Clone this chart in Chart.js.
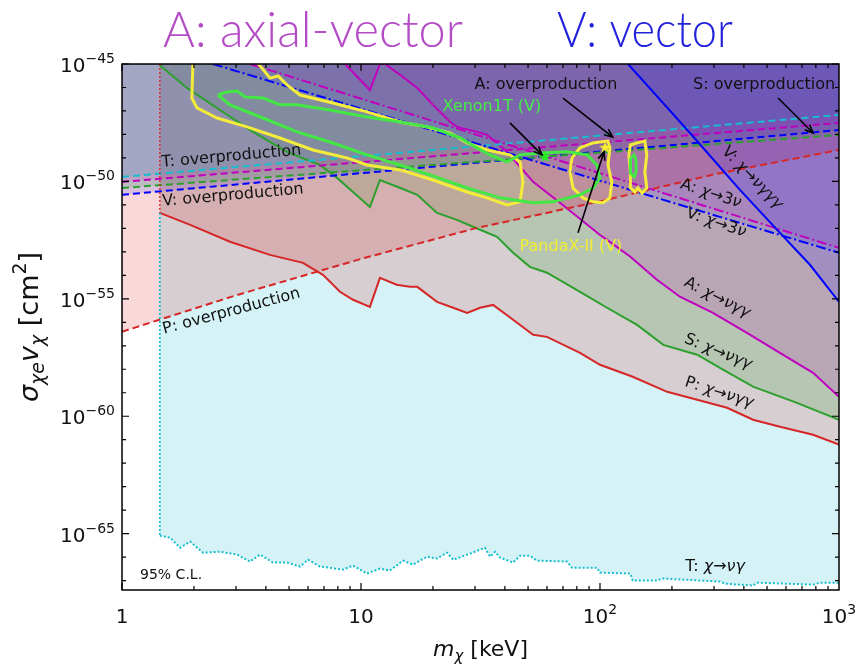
<!DOCTYPE html>
<html>
<head>
<meta charset="utf-8">
<script src="https://cdn.jsdelivr.net/npm/chart.js@4.4.1/dist/chart.umd.min.js"></script>
<style>
  html, body { margin: 0; padding: 0; background: #fff; }
  #wrap { width: 862px; height: 664px; }
</style>
</head>
<body>
<div id="wrap"><canvas id="chart" width="862" height="664"></canvas></div>
<script>
// m_chi in keV, cross sections given as log10(sigma*v / cm^2)
const tDecay = [[1.44,-65.09],[1.59,-65.17],[1.75,-65.60],[1.93,-65.34],[2.18,-65.81],[2.57,-65.77],[3.03,-65.89],[3.43,-66.19],[3.78,-65.89],[4.28,-66.23],[4.90,-66.23],[5.56,-66.40],[6.00,-66.11],[6.73,-66.40],[8.41,-66.53],[9.26,-66.36],[10.6,-66.70],[12.0,-66.49],[13.2,-66.57],[15.0,-66.15],[16.5,-66.32],[18.9,-65.98],[20.8,-66.06],[22.9,-65.81],[24.3,-66.11],[28.6,-65.85],[33.0,-65.60],[34.7,-65.98],[36.4,-65.77],[38.2,-66.02],[43.3,-66.23],[46.3,-65.94],[50.9,-65.94],[54.5,-66.15],[72.8,-66.19],[76.3,-66.45],[97.1,-66.45],[100,-66.66],[134,-66.70],[137,-67.00],[173,-67.00],[182,-66.91],[318,-67.04],[333,-67.13],[437,-67.21],[454,-67.09],[779,-67.17],[833,-67.09],[1000,-67.09]];
const pDecay = [[1.44,-51.34],[1.93,-51.85],[2.83,-52.57],[4.16,-53.13],[5.72,-53.47],[6.93,-53.98],[8.17,-54.70],[9.26,-55.04],[10.9,-55.34],[12.0,-54.11],[14.1,-54.40],[16.0,-54.49],[17.2,-54.49],[20.8,-55.13],[24.3,-55.38],[27.8,-55.60],[31.5,-55.38],[35.7,-55.26],[43.3,-55.89],[52.5,-56.53],[60.0,-56.62],[82.5,-57.30],[100,-57.81],[137,-58.32],[191,-58.96],[255,-59.30],[340,-59.64],[437,-60.15],[566,-60.45],[779,-60.79],[1000,-61.21]];
const sDecay = [[1.44,-45.05],[1.87,-46.02],[2.57,-46.96],[3.53,-47.89],[4.90,-48.74],[6.73,-49.30],[7.94,-49.85],[9.26,-50.45],[10.9,-51.09],[12.0,-49.94],[14.6,-50.28],[17.2,-50.57],[20.8,-51.34],[25.2,-51.64],[31.5,-52.06],[37.1,-52.36],[43.3,-53.04],[50.9,-53.64],[60.0,-53.89],[82.5,-54.70],[107,-55.38],[143,-56.11],[184,-56.96],[255,-57.38],[327,-58.02],[437,-58.74],[667,-59.43],[1000,-60.15]];
const aDecay = [[8.57,-45],[10.9,-46.11],[12.0,-45],[12.6,-45],[14.6,-45.47],[17.2,-46.02],[20.0,-46.74],[23.6,-47.47],[25.2,-47.68],[30.6,-47.89],[33.7,-48.02],[40.8,-48.74],[52.5,-50.02],[68.0,-50.91],[100,-52.28],[107,-52.49],[134,-53.21],[173,-54.19],[216,-54.91],[297,-55.60],[412,-56.45],[566,-57.30],[779,-58.15],[1000,-59.17]];
const vDecay3g = [[131,-45],[238,-47.94],[385,-50.36],[566,-52.19],[756,-53.55],[1000,-55.13]];
const a3nu = [[3.43,-45],[1000,-52.83]];
const v3nu = [[2.40,-45],[1000,-53.04]];

// overproduction bounds
const tOver = [[1,-49.81],[1000,-47.17]];
const aOver = [[1,-50.02],[1000,-47.51]];
const sOver = [[1,-50.28],[1000,-48.02]];
const vOver = [[1,-50.57],[1000,-47.81]];
const pOver = [[1,-56.40],[3,-54.85],[10,-53.30],[30,-52.00],[100,-50.85],[300,-49.70],[1000,-48.66]];

// mass threshold edge
const edgeRed = [[1.44,-45],[1.44,-51.34]];
const edgeCyan = [[1.44,-51.34],[1.44,-65.09]];

// Xenon1T and PandaX-II contours (vector)
const xenonA = [[2.52,-46.32],[2.75,-46.19],[3.03,-46.15],[3.27,-46.40],[3.89,-46.45],[4.58,-46.74],[5.40,-46.74],[7.41,-46.96],[10.6,-47.26],[14.6,-47.47],[20.0,-47.72],[26.0,-48.15],[30.6,-48.57],[34.7,-48.87],[40.8,-49.17],[46.3,-48.87],[56.1,-48.79],[72.8,-48.74],[88.3,-48.87],[97.1,-49.30],[100,-49.85],[93.5,-50.28],[82.5,-50.57],[63.6,-50.87],[52.5,-50.91],[38.2,-50.70],[27.8,-50.28],[20.0,-49.77],[14.6,-49.30],[10.6,-48.87],[7.41,-48.32],[5.40,-47.89],[3.89,-47.30],[2.83,-46.74],[2.52,-46.32]];
const xenonB = [[134.8,-49.00],[139,-48.87],[141.5,-49.09],[141.5,-49.60],[139,-49.81],[134.8,-49.64],[133.6,-49.30],[134.8,-49.00]];
const pandaA = [[1.98,-45],[1.96,-46.45],[2.06,-46.87],[2.50,-47.30],[3.33,-47.68],[4.58,-48.15],[6.30,-48.66],[8.74,-49.00],[10.6,-49.30],[14.6,-49.51],[20.0,-49.94],[27.8,-50.45],[33.7,-50.70],[40.8,-51.00],[46.3,-50.87],[47.6,-50.02],[46.3,-49.17],[42.0,-48.87],[33.7,-48.66],[27.8,-48.36],[23.6,-47.94],[18.9,-47.68],[14.6,-47.47],[10.6,-47.04],[7.63,-46.66],[5.56,-46.32],[4.90,-45.89],[4.50,-45.51],[4.16,-45.60],[3.85,-45.17],[3.71,-45]];
const pandaB = [[76.3,-49.00],[82.5,-48.57],[93.5,-48.36],[100,-48.32],[108,-48.28],[110,-48.57],[108,-49.30],[112,-50.02],[110,-50.70],[103,-50.91],[93.5,-50.87],[84.9,-50.70],[77.1,-50.28],[74.9,-49.60],[76.3,-49.00]];
const pandaC = [[132,-48.87],[134,-48.45],[143,-48.36],[154,-48.28],[157,-48.87],[154,-49.60],[157,-50.28],[150,-50.49],[144,-50.28],[140,-50.45],[134,-50.28],[134,-49.60],[132,-48.87]];
const xenonStar = [[58.9,-48.96]];
const pandaStar = [[105,-48.57]];

const xTickVals = [1, 10, 100, 1000];
const xTickText = [['1'], ['10'], ['10', '2'], ['10', '3']];
const yTickExp = [-45, -50, -55, -60, -65];

const COL = { cyan: '#17becf', red: '#d62728', green: '#2ca02c', mag: '#bf00bf', blue: '#0000ff', yellow: '#f4ec3a', lime: '#44e844' };

function alpha(hex, a) {
    const n = parseInt(hex.slice(1), 16);
    return `rgba(${n >> 16},${(n >> 8) & 255},${n & 255},${a})`;
}
const toPts = arr => arr.map(p => ({ x: p[0], y: Math.pow(10, p[1]) }));

function curve(pts, color, opts = {}) {
    return {
        data: toPts(pts),
        borderColor: color,
        borderWidth: opts.width || 2,
        borderDash: opts.dash || [],
        fill: opts.fill ? 'end' : false,
        backgroundColor: opts.fill ? alpha(color, opts.fill) : 'transparent',
        pointRadius: 0
    };
}

function starImage(color, r) {
    const c = document.createElement('canvas');
    const s = r * 2 + 2;
    c.width = s; c.height = s;
    const g = c.getContext('2d');
    g.beginPath();
    for (let i = 0; i < 10; i++) {
        const rr = i % 2 ? r * 0.45 : r;
        const a = -Math.PI / 2 + i * Math.PI / 5;
        g.lineTo(s / 2 + rr * Math.cos(a), s / 2 + rr * Math.sin(a));
    }
    g.closePath();
    g.fillStyle = color;
    g.fill();
    return c;
}

const DASH = [7, 4], DOT = [2, 2], DASHDOT = [10, 3, 2, 3];

const datasets = [
    { data: toPts(xenonStar), showLine: false, pointStyle: starImage('#22ee22', 6), pointRadius: 6 },
    { data: toPts(pandaStar), showLine: false, pointStyle: starImage('#f8f030', 6), pointRadius: 6 },
    curve(xenonA, COL.lime, { width: 3 }),
    curve(xenonB, COL.lime, { width: 3 }),
    curve(pandaA, COL.yellow, { width: 3 }),
    curve(pandaB, COL.yellow, { width: 3 }),
    curve(pandaC, COL.yellow, { width: 3 }),
    curve(edgeRed, COL.red, { dash: DOT, width: 1.4 }),
    curve(edgeCyan, COL.cyan, { dash: DOT, width: 1.8 }),
    curve(vDecay3g, COL.blue, { fill: 0.13 }),
    curve(a3nu, COL.mag, { dash: DASHDOT, fill: 0.1 }),
    curve(v3nu, COL.blue, { dash: DASHDOT, fill: 0.1 }),
    curve(tOver, COL.cyan, { dash: DASH, fill: 0.16 }),
    curve(aOver, COL.mag, { dash: DASH, fill: 0.13 }),
    curve(sOver, COL.green, { dash: DASH, fill: 0.16 }),
    curve(vOver, COL.blue, { dash: DASH, fill: 0.12 }),
    curve(pOver, COL.red, { dash: DASH, fill: 0.18 }),
    curve(aDecay, COL.mag, { fill: 0.16 }),
    curve(sDecay, COL.green, { fill: 0.18 }),
    curve(pDecay, COL.red, { fill: 0.18 }),
    curve(tDecay, COL.cyan, { dash: DOT, fill: 0.18 })
];

// text annotations, placed in data coordinates
const plainNotes = [
    { x: 59.4, y: -45.89, text: 'A: overproduction', color: '#111' },
    { x: 486, y: -45.89, text: 'S: overproduction', color: '#111' },
    { x: 35.3, y: -46.83, text: 'Xenon1T (V)', color: '#44ee44' },
    { x: 75.6, y: -52.79, text: 'PandaX-II (V)', color: '#f2ee30' }
];
const arrows = [
    { from: [70, -46.45], to: [113, -48.11] },
    { from: [556, -46.45], to: [779, -47.94] },
    { from: [42, -47.51], to: [57.2, -48.87] },
    { from: [80.9, -52.19], to: [104, -48.74] }
];
const sideLabels = [
    { x: 433, y: -49.85, rot: 46, parts: ['V: ', '*χ', '→', '*νγγγ'] },
    { x: 291, y: -50.53, rot: 18, parts: ['A: ', '*χ', '→3', '*ν'] },
    { x: 306, y: -51.77, rot: 19, parts: ['V: ', '*χ', '→3', '*ν'] },
    { x: 309, y: -54.96, rot: 27, parts: ['A: ', '*χ', '→', '*νγγ'] },
    { x: 312, y: -57.26, rot: 22, parts: ['S: ', '*χ', '→', '*νγγ'] },
    { x: 315, y: -59.0, rot: 18, parts: ['P: ', '*χ', '→', '*νγγ'] },
    { x: 303, y: -66.40, rot: 0, parts: ['T: ', '*χ', '→', '*νγ'] }
];
const leftLabels = [
    { x: 1.47, y: -49.38, rot: -5, text: 'T: overproduction' },
    { x: 1.48, y: -51.04, rot: -5, text: 'V: overproduction' },
    { x: 1.50, y: -56.49, rot: -15, text: 'P: overproduction' }
];

const F = (size, it) => (it ? 'italic ' : '') + size + 'px "DejaVu Sans"';

function drawRich(ctx, segs, x, y, align) {
    let w = 0;
    segs.forEach(s => { ctx.font = s.f; w += ctx.measureText(s.t).width; });
    let cx = align === 'center' ? x - w / 2 : align === 'right' ? x - w : x;
    ctx.textAlign = 'left';
    segs.forEach(s => {
        ctx.font = s.f;
        ctx.fillText(s.t, cx, y + (s.dy || 0));
        cx += ctx.measureText(s.t).width;
    });
}

function fitText(ctx, text, left, right, baseline, font, color) {
    ctx.font = font;
    const w = ctx.measureText(text).width;
    ctx.save();
    ctx.translate(left, baseline);
    ctx.scale((right - left) / w, 1);
    ctx.fillStyle = color;
    ctx.textAlign = 'left';
    ctx.textBaseline = 'alphabetic';
    ctx.fillText(text, 0, 0);
    ctx.restore();
}

const decor = {
    id: 'decor',
    afterDatasetsDraw(chart) {
        const { ctx, chartArea: a, scales: { x, y } } = chart;
        const px = v => x.getPixelForValue(v);
        const py = e => y.getPixelForValue(Math.pow(10, e));
        ctx.save();

        // annotations
        ctx.textBaseline = 'middle';
        plainNotes.forEach(n => {
            ctx.font = F(16);
            ctx.fillStyle = n.color;
            ctx.textAlign = 'center';
            ctx.fillText(n.text, px(n.x), py(n.y));
        });
        ctx.strokeStyle = '#000';
        ctx.lineWidth = 1.6;
        arrows.forEach(ar => {
            const x0 = px(ar.from[0]), y0 = py(ar.from[1]);
            const x1 = px(ar.to[0]), y1 = py(ar.to[1]);
            const ang = Math.atan2(y1 - y0, x1 - x0);
            ctx.beginPath();
            ctx.moveTo(x0, y0);
            ctx.lineTo(x1, y1);
            ctx.moveTo(x1 - 9 * Math.cos(ang - 0.4), y1 - 9 * Math.sin(ang - 0.4));
            ctx.lineTo(x1, y1);
            ctx.lineTo(x1 - 9 * Math.cos(ang + 0.4), y1 - 9 * Math.sin(ang + 0.4));
            ctx.stroke();
        });
        ctx.fillStyle = '#111';
        sideLabels.forEach(l => {
            ctx.save();
            ctx.translate(px(l.x), py(l.y));
            ctx.rotate(l.rot * Math.PI / 180);
            const segs = l.parts.map(p => p[0] === '*' ? { t: p.slice(1), f: F(16, true) } : { t: p, f: F(16) });
            drawRich(ctx, segs, 0, 0, 'center');
            ctx.restore();
        });
        leftLabels.forEach(l => {
            ctx.save();
            ctx.translate(px(l.x), py(l.y));
            ctx.rotate(l.rot * Math.PI / 180);
            ctx.font = F(16);
            ctx.textAlign = 'left';
            ctx.textBaseline = 'alphabetic';
            ctx.fillText(l.text, 0, 0);
            ctx.restore();
        });
        ctx.font = F(14);
        ctx.textAlign = 'left';
        ctx.textBaseline = 'middle';
        ctx.fillText('95% C.L.', px(1.19), py(-66.79));

        // frame and inward ticks
        ctx.strokeStyle = '#000';
        ctx.lineWidth = 1.5;
        ctx.strokeRect(a.left, a.top, a.right - a.left, a.bottom - a.top);
        ctx.lineWidth = 1.2;
        ctx.beginPath();
        for (let k = 0; k < 3; k++) {
            for (let m = 1; m <= 9; m++) {
                const xx = px(m * Math.pow(10, k));
                const len = m === 1 ? 7 : 4;
                ctx.moveTo(xx, a.bottom); ctx.lineTo(xx, a.bottom - len);
                ctx.moveTo(xx, a.top); ctx.lineTo(xx, a.top + len);
            }
        }
        for (let e = -67; e <= -45; e++) {
            const yy = py(e);
            const len = e % 5 === 0 ? 7 : 4;
            ctx.moveTo(a.left, yy); ctx.lineTo(a.left + len, yy);
            ctx.moveTo(a.right, yy); ctx.lineTo(a.right - len, yy);
        }
        ctx.stroke();

        // tick labels
        ctx.fillStyle = '#111';
        ctx.textBaseline = 'alphabetic';
        xTickVals.forEach((v, i) => {
            const t = xTickText[i];
            const segs = [{ t: t[0], f: F(20) }];
            if (t[1]) segs.push({ t: t[1], f: F(14), dy: -9 });
            drawRich(ctx, segs, px(v), a.bottom + 33, 'center');
        });
        yTickExp.forEach(e => {
            drawRich(ctx, [{ t: '10', f: F(20) }, { t: '−' + String(-e), f: F(14), dy: -9 }], a.left - 7, py(e) + 8, 'right');
        });

        // axis titles
        drawRich(ctx, [
            { t: 'm', f: F(22, true) },
            { t: 'χ', f: F(15, true), dy: 5 },
            { t: ' [keV]', f: F(22) }
        ], (a.left + a.right) / 2, 656, 'center');
        ctx.save();
        ctx.translate(38, (a.top + a.bottom) / 2);
        ctx.rotate(-Math.PI / 2);
        drawRich(ctx, [
            { t: 'σ', f: F(27, true) },
            { t: 'χe', f: F(19, true), dy: 6 },
            { t: 'v', f: F(27, true) },
            { t: 'χ', f: F(19, true), dy: 6 },
            { t: ' [cm', f: F(27) },
            { t: '2', f: F(19), dy: -12 },
            { t: ']', f: F(27) }
        ], 0, 0, 'center');
        ctx.restore();

        // header
        const tf = '300 50px Lato, "Liberation Sans Narrow", sans-serif';
        fitText(ctx, 'A: axial-vector', 163, 463, 47, tf, '#b44cc6');
        fitText(ctx, 'V: vector', 557, 733, 47, tf, '#2222dd');
        ctx.restore();
    }
};

new Chart(document.getElementById('chart'), {
    type: 'line',
    data: { datasets },
    options: {
        responsive: false,
        animation: false,
        devicePixelRatio: 1,
        layout: { padding: { top: 64, right: 23, left: 0, bottom: 0 } },
        elements: { line: { tension: 0 }, point: { radius: 0 } },
        scales: {
            x: {
                type: 'logarithmic',
                min: 1,
                max: 1000,
                grid: { display: false },
                border: { display: false },
                ticks: { display: false },
                afterFit: s => { s.height = 74; }
            },
            y: {
                type: 'logarithmic',
                min: Math.pow(10, -67.4),
                max: 1e-45,
                grid: { display: false },
                border: { display: false },
                ticks: { display: false },
                afterFit: s => { s.width = 122; }
            }
        },
        plugins: {
            legend: { display: false },
            tooltip: { enabled: false },
            filler: { propagate: false, drawTime: 'beforeDatasetsDraw' }
        }
    },
    plugins: [decor]
});
</script>
</body>
</html>
